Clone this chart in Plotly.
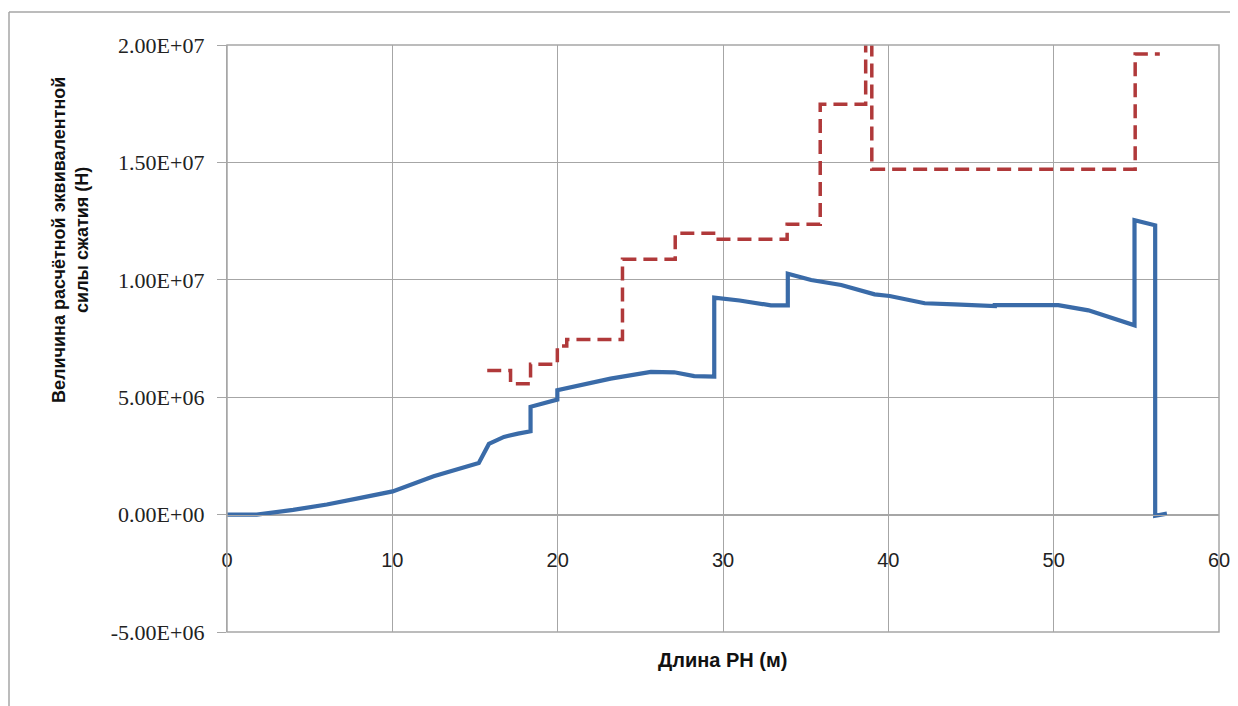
import plotly.graph_objects as go

# Blue series: calculated equivalent compressive force (N) vs length (m)
blue_x = [0.0, 1.8, 4.0, 6.04, 8.0, 10.02, 12.5, 15.23, 15.84, 16.75, 17.6, 18.36, 18.36,
          19.98, 19.98, 21.5, 23.2, 25.64, 27.05, 28.26, 29.47, 29.47, 31.0, 32.9, 33.92,
          33.92, 35.33, 37.15, 39.17, 40.08, 42.2, 44.0, 46.44, 46.44, 50.28, 52.1, 54.89,
          54.89, 56.14, 56.14, 56.85]
blue_y = [0.0, 0.0, 0.2e6, 0.43e6, 0.7e6, 0.99e6, 1.63e6, 2.2e6, 3.01e6, 3.31e6, 3.45e6, 3.55e6, 4.59e6,
          4.9e6, 5.3e6, 5.55e6, 5.79e6, 6.08e6, 6.06e6, 5.9e6, 5.88e6, 9.24e6, 9.12e6, 8.91e6, 8.91e6,
          10.26e6, 9.99e6, 9.78e6, 9.38e6, 9.31e6, 9.0e6, 8.95e6, 8.88e6, 8.92e6, 8.92e6, 8.7e6, 8.06e6,
          12.54e6, 12.32e6, -0.05e6, 0.04e6]

# Red dashed step series
red_x = [15.74, 17.15, 17.15, 18.36, 18.36, 19.98, 19.98, 20.55, 20.55, 23.92, 23.92, 27.11,
         27.11, 29.58, 29.58, 33.88, 33.88, 35.88, 35.88, 38.63, 38.63, 39.0, 39.0, 54.93,
         54.93, 56.42]
red_y = [6.14e6, 6.14e6, 5.57e6, 5.57e6, 6.4e6, 6.4e6, 7.18e6, 7.18e6, 7.46e6, 7.46e6, 10.87e6, 10.87e6,
         11.98e6, 11.98e6, 11.73e6, 11.73e6, 12.37e6, 12.37e6, 17.48e6, 17.48e6, 22.0e6, 22.0e6, 14.71e6, 14.71e6,
         19.62e6, 19.62e6]

y_ticks = [-5e6, 0, 5e6, 1.0e7, 1.5e7, 2.0e7]
y_labels = ["-5.00E+06", "0.00E+00", "5.00E+06", "1.00E+07", "1.50E+07", "2.00E+07"]
x_ticks = [0, 10, 20, 30, 40, 50, 60]

OFF = 8  # page body margin
FW, FH = 1238 - OFF, 706 - OFF
L, R, T, B = 227 - OFF, 1219 - OFF, 45 - OFF, 632 - OFF
W, H = R - L, B - T

fig = go.Figure()
fig.add_trace(go.Scatter(x=red_x, y=red_y, mode="lines",
                         line=dict(color="#B0393A", width=3.5, dash="14px,7px"),
                         showlegend=False))
fig.add_trace(go.Scatter(x=blue_x, y=blue_y, mode="lines",
                         line=dict(color="#3A6BA8", width=4.2),
                         showlegend=False))

fig.update_layout(
    width=FW, height=FH,
    margin=dict(l=L, r=FW - R, t=T, b=FH - B, autoexpand=False),
    paper_bgcolor="white", plot_bgcolor="white",
    xaxis=dict(range=[0, 60], tickvals=x_ticks, showgrid=True, gridcolor="#A6A6A6", gridwidth=1.3,
               zeroline=False, showline=True, linecolor="#A6A6A6", linewidth=1.3,
               anchor="free", position=0.2, ticks="", ticklabelstandoff=27, automargin=False,
               tickfont=dict(family="Liberation Sans, sans-serif", size=20, color="#222")),
    yaxis=dict(range=[-5e6, 2e7], tickvals=y_ticks, ticktext=y_labels, showgrid=True,
               gridcolor="#A6A6A6", gridwidth=1.3, zeroline=False, showline=True,
               linecolor="#A6A6A6", linewidth=1.3, ticks="outside", ticklen=9, tickcolor="#A6A6A6",
               ticklabelstandoff=8, automargin=False,
               tickfont=dict(family="Liberation Serif, serif", size=22, color="#222")),
    shapes=[
        dict(type="rect", xref="paper", yref="paper", x0=0, x1=1, y0=0, y1=1,
             line=dict(color="#A6A6A6", width=1.5)),
        dict(type="line", xref="paper", yref="paper", x0=(9 - OFF - L) / W, x1=(FW + 5 - L) / W,
             y0=(B - (12 - OFF)) / H, y1=(B - (12 - OFF)) / H, line=dict(color="#A6A6A6", width=1.5)),
        dict(type="line", xref="paper", yref="paper", x0=(9 - OFF - L) / W, x1=(9 - OFF - L) / W,
             y0=(B - FH - 5) / H, y1=(B - (12 - OFF)) / H, line=dict(color="#A6A6A6", width=1.5)),
    ],
    annotations=[
        dict(text="<b>Длина РН (м)</b>", xref="paper", yref="paper", x=(722 - OFF - L) / W,
             y=(B - (660 - OFF)) / H,
             showarrow=False, xanchor="center", yanchor="middle",
             font=dict(family="Liberation Sans, sans-serif", size=20, color="#111")),
        dict(text="<b>Величина расчётной эквивалентной<br>силы сжатия (Н)</b>", xref="paper", yref="paper",
             x=(70 - OFF - L) / W, y=(B - (240 - OFF)) / H, showarrow=False, textangle=-90,
             xanchor="center", yanchor="middle",
             font=dict(family="Liberation Sans, sans-serif", size=18, color="#111")),
    ],
)

fig.write_html("out.html")
